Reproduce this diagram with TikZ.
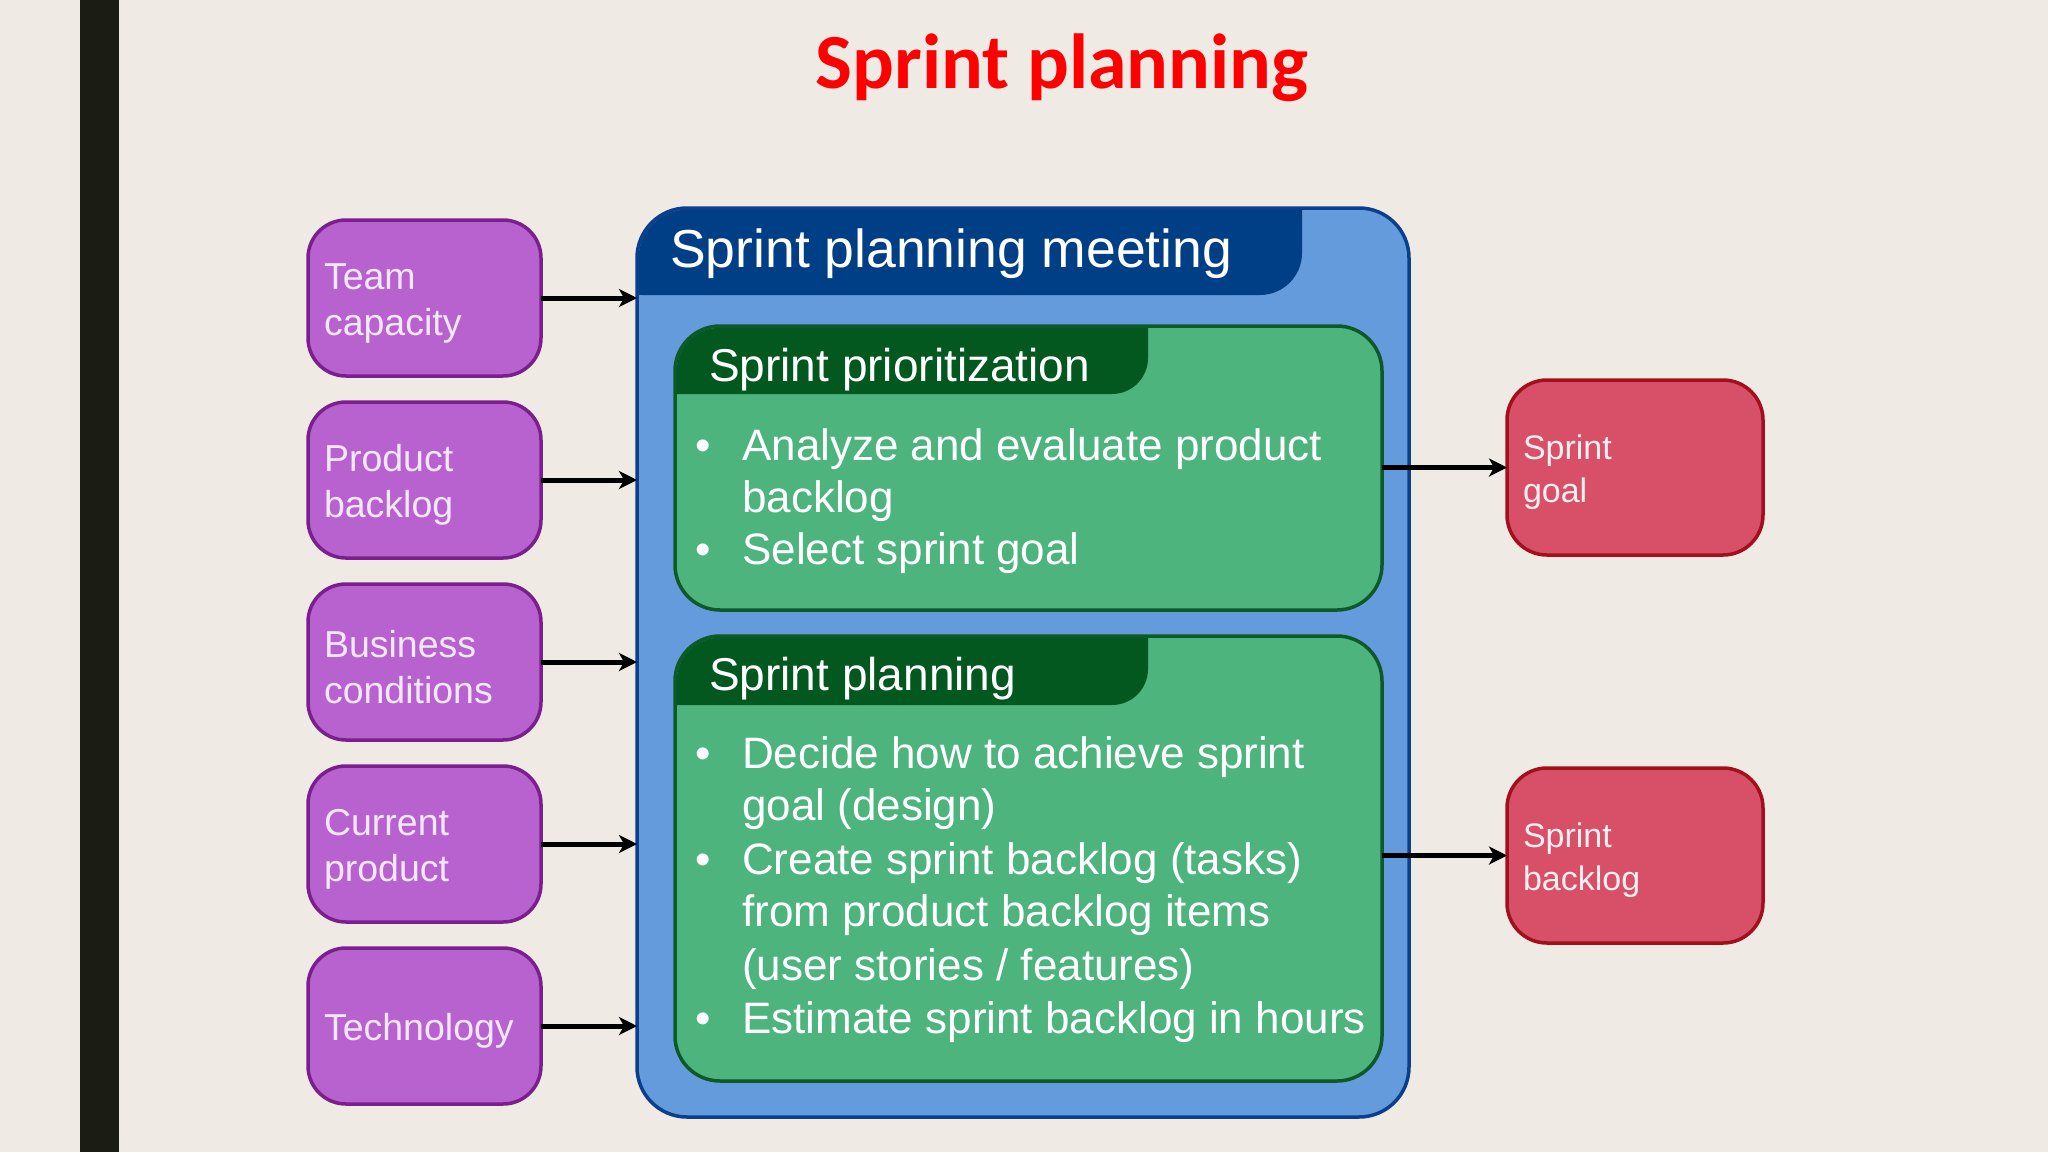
\documentclass[tikz,border=0pt]{standalone}
\usepackage{fontspec}
\setmainfont{Liberation Sans}
\newfontfamily\titlefont{Carlito}
\usetikzlibrary{arrows.meta}
\definecolor{bgc}{HTML}{EFEBE4}
\definecolor{barc}{HTML}{1B1C14}
\definecolor{purfill}{HTML}{B862CF}
\definecolor{purline}{HTML}{7B1E8E}
\definecolor{purtext}{HTML}{F2E8FC}
\definecolor{bluefill}{HTML}{639BDD}
\definecolor{blueline}{HTML}{0B3F8C}
\definecolor{bluehdr}{HTML}{003F85}
\definecolor{greenfill}{HTML}{4CB47C}
\definecolor{greenline}{HTML}{0D5A28}
\definecolor{greenhdr}{HTML}{03581F}
\definecolor{redfill}{HTML}{D84F68}
\definecolor{redline}{HTML}{A1101C}
\definecolor{redtext}{HTML}{FCEFF2}
\definecolor{titlered}{HTML}{FF0000}
\tikzset{
  inbox/.style={rectangle, rounded corners=38, fill=purfill, draw=purline, line width=3.5pt,
    minimum width=233pt, minimum height=156pt, text width=201pt, inner xsep=16pt, inner ysep=0pt,
    outer sep=0pt, align=left, text=purtext, font=\fontsize{37.5}{46}\selectfont,
    execute at begin node={\rule{0pt}{37pt}}},
  outbox/.style={rectangle, rounded corners=40, fill=redfill, draw=redline, line width=3.5pt,
    minimum width=256pt, minimum height=175pt, text width=224pt, inner xsep=16pt, inner ysep=0pt,
    outer sep=0pt, align=left, text=redtext, font=\fontsize{34}{43}\selectfont,
    execute at begin node={\rule{0pt}{34pt}}},
  meetbox/.style={rectangle, rounded corners=50, fill=bluefill, draw=blueline, line width=3.5pt,
    minimum width=772pt, minimum height=909pt, inner sep=0pt, outer sep=0pt},
  phasebox/.style={rectangle, rounded corners=45, fill=greenfill, draw=greenline, line width=3.5pt,
    minimum width=707pt, inner sep=0pt, outer sep=0pt},
  hdrtext/.style={anchor=base west, inner sep=0pt, text=white},
  itemtext/.style={anchor=base west, inner sep=0pt, text=white, font=\fontsize{44}{53}\selectfont},
  arr/.style={line width=5pt, draw=black, -{Stealth[length=18pt,width=18pt,inset=5pt]}},
}
\begin{document}
\begin{tikzpicture}[x=1pt,y=-1pt]
\useasboundingbox (0,0) rectangle (2048,1152);
\fill[bgc] (0,0) rectangle (2048,1152);
\fill[barc] (80,0) rectangle (119,1152);

\node[anchor=base, inner sep=0pt, text=titlered, font=\titlefont\bfseries\fontsize{78}{90}\selectfont] (title) at (1062,88) {Sprint planning};

% inputs
\node[inbox] (tc) at (424.5,298) {Team\\capacity};
\node[inbox] (pb) at (424.5,480) {Product\\backlog};
\node[inbox] (bc) at (424.5,662) {Business\\conditions};
\node[inbox] (cp) at (424.5,844) {Current\\product};
\node[inbox] (te) at (424.5,1026) {Technology};

% meeting box
\node[meetbox] (meeting) at (1023,662.5) {};
\begin{scope}
  \clip[rounded corners=48] ([shift={(1.75,1.75)}]meeting.north west) rectangle ([shift={(-1.75,-1.75)}]meeting.south east);
  \fill[bluehdr, rounded corners=42] (600,100) rectangle (1302,295);
\end{scope}
\node[hdrtext, font=\fontsize{53.5}{64}\selectfont] (meetingtitle) at (670,267) {Sprint planning meeting};

% phase 1
\node[phasebox, minimum height=284pt] (prio) at (1028.5,468) {};
\begin{scope}
  \clip[rounded corners=43] ([shift={(1.75,1.75)}]prio.north west) rectangle ([shift={(-1.75,-1.75)}]prio.south east);
  \fill[greenhdr, rounded corners=36] (640,200) rectangle (1148,394);
\end{scope}
\node[hdrtext, font=\fontsize{46}{55}\selectfont] (priotitle) at (709,381) {Sprint prioritization};
\node[itemtext] (d1) at (695,460) {•};
\node[itemtext] (l1) at (742,460) {Analyze and evaluate product};
\node[itemtext] (l2) at (742,512) {backlog};
\node[itemtext] (d2) at (695,564) {•};
\node[itemtext] (l3) at (742,564) {Select sprint goal};

% phase 2
\node[phasebox, minimum height=445pt] (plan) at (1028.5,858.5) {};
\begin{scope}
  \clip[rounded corners=43] ([shift={(1.75,1.75)}]plan.north west) rectangle ([shift={(-1.75,-1.75)}]plan.south east);
  \fill[greenhdr, rounded corners=36] (640,500) rectangle (1148,705);
\end{scope}
\node[hdrtext, font=\fontsize{46}{55}\selectfont] (plantitle) at (709,690) {Sprint planning};
\node[itemtext] (d3) at (695,768) {•};
\node[itemtext] (l4) at (742,768) {Decide how to achieve sprint};
\node[itemtext] (l5) at (742,820) {goal (design)};
\node[itemtext] (d4) at (695,874) {•};
\node[itemtext] (l6) at (742,874) {Create sprint backlog (tasks)};
\node[itemtext] (l7) at (742,926) {from product backlog items};
\node[itemtext] (l8) at (742,980) {(user stories / features)};
\node[itemtext] (d5) at (695,1033) {•};
\node[itemtext] (l9) at (742,1033) {Estimate sprint backlog in hours};

% outputs
\node[outbox] (goal) at (1635,467.5) {Sprint\\goal};
\node[outbox] (sbl) at (1635,855.5) {Sprint\\backlog};

% connectors
\foreach \n in {tc,pb,bc,cp,te}
  \draw[arr] (\n.east) -- (\n.east -| meeting.west);
\draw[arr] (prio.east |- goal.west) -- (goal.west);
\draw[arr] (plan.east |- sbl.west) -- (sbl.west);
\end{tikzpicture}
\end{document}
